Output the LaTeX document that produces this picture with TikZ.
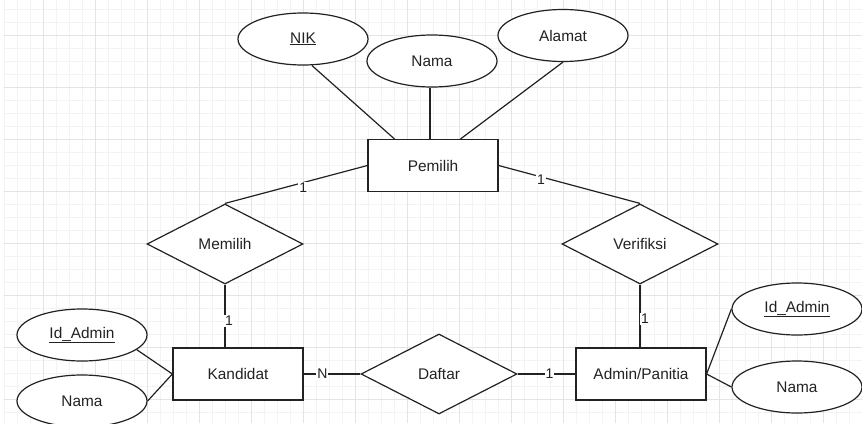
\documentclass[tikz,border=0pt]{standalone}
\usepackage{fontspec}
\setmainfont{Liberation Sans}
\usetikzlibrary{shapes.geometric}
\definecolor{gridmajor}{HTML}{E4E4E4}
\definecolor{gridminor}{HTML}{F3F3F3}
\definecolor{ink}{HTML}{222222}
\tikzset{
  base/.style={draw=ink, line width=1.2pt, text=ink, inner sep=0pt,
    font=\fontsize{15.4}{18}\selectfont},
  entity/.style={base, rectangle, minimum width=130pt, minimum height=52pt},
  attr/.style={base, ellipse, minimum width=130pt, minimum height=52pt},
  rel/.style={base, diamond, minimum width=156pt, minimum height=80pt},
  conn/.style={draw=ink, line width=1.2pt},
  card/.style={fill=white, text=ink, inner sep=1pt, font=\fontsize{14}{16}\selectfont}
}
\begin{document}
\begin{tikzpicture}[x=1pt, y=-1pt]
\useasboundingbox (0,0) rectangle (862,423);
\fill[white] (0,0) rectangle (862,423);
% grid
\foreach \x in {4,17,...,862} \draw[gridminor, line width=0.8pt] (\x,0) -- (\x,423);
\foreach \y in {9,22,...,423} \draw[gridminor, line width=0.8pt] (4,\y) -- (862,\y);
\foreach \x in {43,95,...,862} \draw[gridmajor, line width=1pt] (\x,0) -- (\x,423);
\foreach \y in {35,87,...,423} \draw[gridmajor, line width=1pt] (4,\y) -- (862,\y);

% entities
\node[entity, fill=white] (pem) at (433,165.5) {Pemilih};
\node[entity, fill=white] (kan) at (238,374) {Kandidat};
\node[entity, fill=white] (adm) at (641,374) {Admin/Panitia};

% relationships
\node[rel, fill=white] (mem) at (225,244) {Memilih};
\node[rel, fill=white] (ver) at (640,244) {Verifiksi};
\node[rel, fill=white] (daf) at (439,374) {Daftar};

% attributes
\node[attr, fill=white] (nik) at (303,39) {\underline{NIK}};
\node[attr, fill=white] (nama) at (432,61) {Nama};
\node[attr, fill=white] (alamat) at (563,35.5) {Alamat};
\node[attr, fill=white] (kid) at (82,335) {\underline{Id\_Admin}};
\node[attr, fill=white] (knama) at (82,401) {Nama};
\node[attr, fill=white] (aid) at (797,309) {\underline{Id\_Admin}};
\node[attr, fill=white] (anama) at (797,387) {Nama};

% attribute connectors
\draw[conn] ([xshift=9pt]nik.south) -- ([xshift=27pt]pem.north west);
\draw[conn] ([xshift=-2pt]nama.south) -- ([xshift=-3pt]pem.north);
\draw[conn] (alamat.south) -- ([xshift=-38pt]pem.north east);
\draw[conn] (kid.-15) -- (kan.west);
\draw[conn] (knama.east) -- (kan.west);
\draw[conn] (adm.east) -- (aid.west);
\draw[conn] (adm.east) -- (anama.west);

% relationship connectors
\draw[conn] (pem.west) -- (mem.north) node[card, pos=0.45, yshift=-5pt] {1};
\draw[conn] (pem.east) -- (ver.north) node[card, pos=0.3, yshift=-3pt] {1};
\draw[conn] (mem.south) -- (kan.north -| mem.south) node[card, pos=0.58, xshift=4pt] {1};
\draw[conn] (ver.south) -- (adm.north -| ver.south) node[card, pos=0.55, xshift=5pt] {1};
\draw[conn] (kan.east) -- (daf.west) node[card, pos=0.33] {N};
\draw[conn] (daf.west -| daf.east) -- (adm.west) node[card, pos=0.55] {1};
\end{tikzpicture}
\end{document}
